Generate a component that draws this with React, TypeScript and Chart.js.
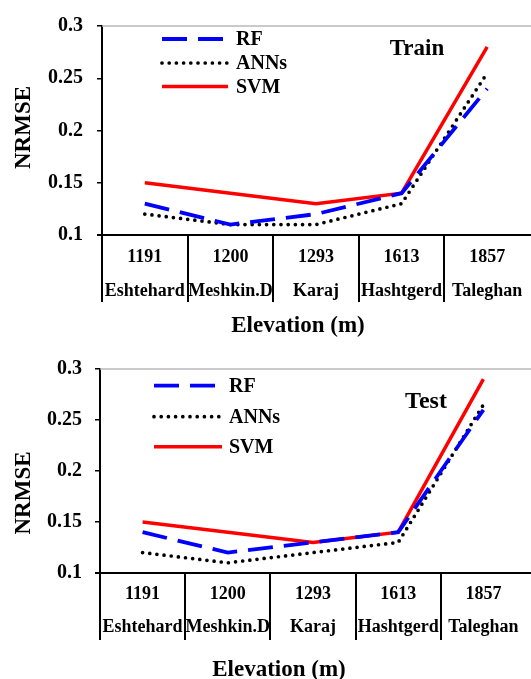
import React, { useEffect, useRef } from 'react';
import { Chart, registerables } from 'chart.js';

Chart.register(...registerables);

const FONT = "'Times New Roman', 'Liberation Serif', serif";

// ---- data ----
const elevations = ['1191', '1200', '1293', '1613', '1857'];
const stations = ['Eshtehard', 'Meshkin.D', 'Karaj', 'Hashtgerd', 'Taleghan'];
const seriesNames = ['RF', 'ANNs', 'SVM'];
const trainRF = [0.13, 0.11, 0.12, 0.14, 0.24];
const trainANN = [0.12, 0.11, 0.11, 0.13, 0.255];
const trainSVM = [0.15, 0.14, 0.13, 0.14, 0.28];
const testRF = [0.14, 0.12, 0.13, 0.14, 0.26];
const testANN = [0.12, 0.11, 0.12, 0.13, 0.265];
const testSVM = [0.15, 0.14, 0.13, 0.14, 0.29];
const yTicks = [0.1, 0.15, 0.2, 0.25, 0.3];
const yTitle = 'NRMSE';
const xTitle = 'Elevation (m)';

// ---- styles ----
const seriesStyles = [
  { color: '#0000FF', dash: [25, 11], cap: 'butt', width: 3.8 },
  { color: '#000000', dash: [0, 7.2], cap: 'round', width: 3.7 },
  { color: '#FF0000', dash: [] as number[], cap: 'butt', width: 3.5 },
];

type Layout = {
  top: number; height: number;
  areaLeft: number; areaRight: number; areaTop: number; areaBottom: number;
  lineHeight: number; sepLen: number; yTickPad: number;
  yTitleX: number; yTitleY: number; xTitleX: number; xTitleY: number;
  tagX: number; tagY: number; tagSize: number;
  legX1: number; legX2: number; legTextX: number; legY: number[];
};

const W = 531;

const topLayout: Layout = {
  top: 0, height: 340,
  areaLeft: 102, areaRight: 530, areaTop: 20, areaBottom: 235,
  lineHeight: 34, sepLen: 67, yTickPad: 14,
  yTitleX: 24, yTitleY: 127.5, xTitleX: 298, xTitleY: 326,
  tagX: 417, tagY: 49, tagSize: 23,
  legX1: 162, legX2: 228, legTextX: 236, legY: [39, 63, 86.5],
};

const bottomLayout: Layout = {
  top: 340, height: 339,
  areaLeft: 100, areaRight: 526, areaTop: 29, areaBottom: 233,
  lineHeight: 33, sepLen: 67, yTickPad: 13,
  yTitleX: 24, yTitleY: 153, xTitleX: 279, xTitleY: 330,
  tagX: 426, tagY: 62, tagSize: 24,
  legX1: 154, legX2: 222, legTextX: 229, legY: [45.7, 76.7, 106.7],
};

function makeDecor(tag: string, L: Layout) {
  return {
    id: 'decor',
    afterDraw(chart: any) {
      const { ctx, chartArea: a, scales } = chart;
      const xs = scales.x;
      ctx.save();
      // top frame line
      ctx.strokeStyle = '#b8b8b8';
      ctx.lineWidth = 1.5;
      ctx.beginPath();
      ctx.moveTo(a.left, a.top);
      ctx.lineTo(chart.width, a.top);
      ctx.stroke();
      // x axis baseline
      ctx.strokeStyle = '#000';
      ctx.lineWidth = 2;
      ctx.beginPath();
      ctx.moveTo(a.left - 5, a.bottom);
      ctx.lineTo(chart.width, a.bottom);
      ctx.stroke();
      // category separators
      for (let i = 0; i < elevations.length; i++) {
        const x = Math.round(xs.getPixelForValue(i - 0.5));
        ctx.beginPath();
        ctx.moveTo(x, a.bottom);
        ctx.lineTo(x, a.bottom + L.sepLen);
        ctx.stroke();
      }
      ctx.fillStyle = '#000';
      // y title
      ctx.save();
      ctx.translate(L.yTitleX, L.yTitleY);
      ctx.rotate(-Math.PI / 2);
      ctx.font = `bold 23px ${FONT}`;
      ctx.textAlign = 'center';
      ctx.textBaseline = 'middle';
      ctx.fillText(yTitle, 0, 0);
      ctx.restore();
      // x title
      ctx.font = `bold 23px ${FONT}`;
      ctx.textAlign = 'center';
      ctx.textBaseline = 'middle';
      ctx.fillText(xTitle, L.xTitleX, L.xTitleY);
      // panel tag
      ctx.font = `bold ${L.tagSize}px ${FONT}`;
      ctx.fillText(tag, L.tagX, L.tagY);
      // legend
      chart.data.datasets.forEach((ds: any, k: number) => {
        const y = L.legY[k];
        ctx.save();
        ctx.strokeStyle = ds.borderColor;
        ctx.lineWidth = ds.borderWidth;
        ctx.lineCap = ds.borderCapStyle;
        ctx.setLineDash(ds.borderDash);
        ctx.beginPath();
        ctx.moveTo(L.legX1, y);
        ctx.lineTo(L.legX2, y);
        ctx.stroke();
        ctx.restore();
        ctx.font = `bold 20px ${FONT}`;
        ctx.textAlign = 'left';
        ctx.textBaseline = 'middle';
        ctx.fillStyle = '#000';
        ctx.fillText(ds.label, L.legTextX, y + 1);
      });
      ctx.restore();
    },
  };
}

function Panel({ tag, series, L }: { tag: string; series: number[][]; L: Layout }) {
  const ref = useRef<HTMLCanvasElement>(null);
  useEffect(() => {
    if (!ref.current) return;
    const chart = new Chart(ref.current, {
      type: 'line',
      data: {
        labels: elevations.map((e, i) => [e, stations[i]]),
        datasets: series.map((vals, k) => ({
          label: seriesNames[k],
          data: vals,
          borderColor: seriesStyles[k].color,
          backgroundColor: seriesStyles[k].color,
          borderDash: seriesStyles[k].dash,
          borderCapStyle: seriesStyles[k].cap as any,
          borderWidth: seriesStyles[k].width,
          pointRadius: 0,
          pointHoverRadius: 0,
          fill: false,
          tension: 0,
        })),
      },
      options: {
        animation: false,
        responsive: false,
        devicePixelRatio: 1,
        layout: { padding: { left: 0, top: L.areaTop, right: W - L.areaRight, bottom: 0 } },
        plugins: { legend: { display: false }, tooltip: { enabled: false }, title: { display: false } },
        scales: {
          x: {
            type: 'category',
            offset: true,
            grid: { display: false, drawTicks: false },
            border: { display: false },
            ticks: {
              autoSkip: false,
              maxRotation: 0,
              minRotation: 0,
              padding: 5,
              color: '#000',
              font: { family: FONT, size: 18, weight: 'bold', lineHeight: L.lineHeight / 18 },
            },
            afterFit: (s: any) => { s.height = L.height - L.areaBottom; },
          },
          y: {
            min: yTicks[0],
            max: yTicks[yTicks.length - 1],
            afterBuildTicks: (s: any) => { s.ticks = yTicks.map((v) => ({ value: v })); },
            grid: { drawOnChartArea: false, color: '#000', lineWidth: 1.5, tickLength: 5 },
            border: { color: '#000', width: 2 },
            ticks: {
              padding: L.yTickPad,
              color: '#000',
              font: { family: FONT, size: 20, weight: 'bold' },
              callback: (v: any) => String(v),
            },
            afterFit: (s: any) => { s.width = L.areaLeft; },
          },
        },
      },
      plugins: [makeDecor(tag, L)],
    } as any);
    return () => chart.destroy();
  }, []);
  return (
    <canvas
      ref={ref}
      width={W}
      height={L.height}
      style={{ position: 'absolute', left: 0, top: L.top, width: W, height: L.height, display: 'block' }}
    />
  );
}

export default function App() {
  return (
    <div style={{ position: 'absolute', left: 0, top: 0, width: W, height: 679, background: '#fff' }}>
      <Panel tag="Train" series={[trainRF, trainANN, trainSVM]} L={topLayout} />
      <Panel tag="Test" series={[testRF, testANN, testSVM]} L={bottomLayout} />
    </div>
  );
}
